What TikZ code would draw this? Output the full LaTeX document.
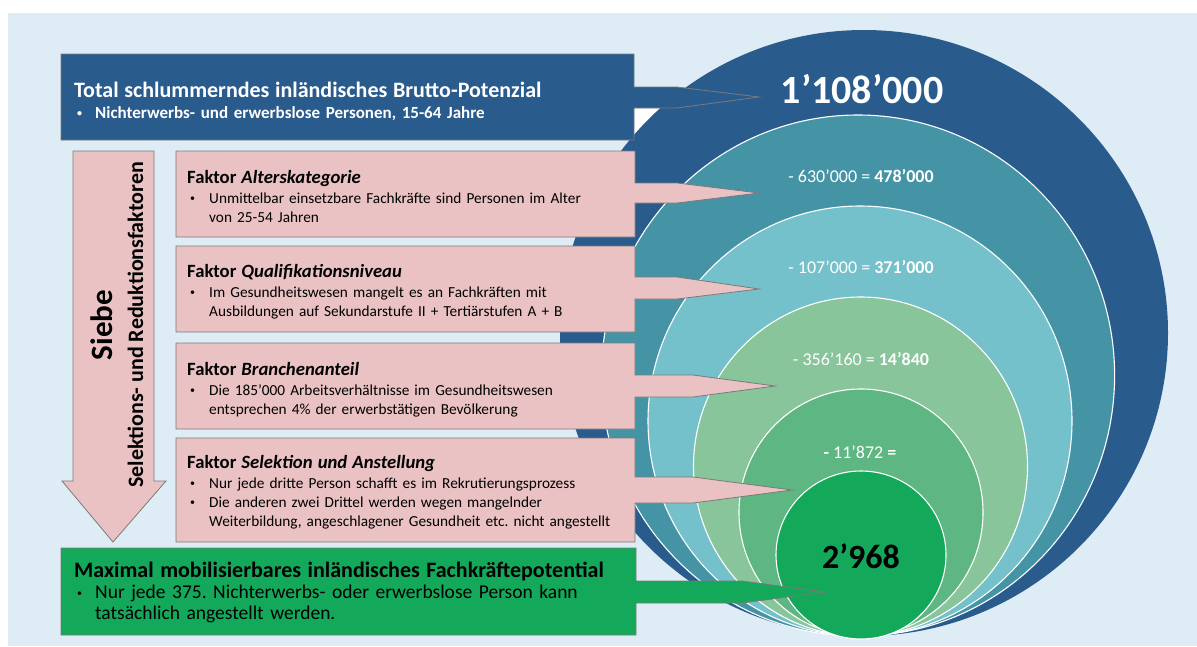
\documentclass[tikz,border=0pt]{standalone}
\usepackage{fontspec}
\setmainfont{Carlito}

\definecolor{bgblue}{HTML}{DEEDF5}
\definecolor{dkblue}{HTML}{2A5B8D}
\definecolor{ringteal}{HTML}{4594A6}
\definecolor{ringcyan}{HTML}{75C1CB}
\definecolor{ringlime}{HTML}{88C59B}
\definecolor{ringgreen}{HTML}{5EB682}
\definecolor{brgreen}{HTML}{14A85A}
\definecolor{boxpink}{HTML}{EAC2C3}
\definecolor{boxline}{HTML}{7A7A7A}

% bullet with hanging indent
\newcommand{\bul}[2][22pt]{\par\hangindent=#1\hangafter=1\noindent
    \makebox[#1][l]{\hspace{3pt}\raisebox{1.2pt}{\fontsize{10}{10}\selectfont\textbullet}}#2\par}

\begin{document}
\frenchspacing
\begin{tikzpicture}[x=1pt,y=-1pt,
    callout/.style={draw=boxline, line width=0.8pt, line join=miter},
    boxtext/.style={anchor=base west, inner sep=0pt, text width=440pt,
        font=\fontsize{15.3}{19}\selectfont},
    ringnum/.style={anchor=base, inner sep=0pt, text=white,
        font=\fontsize{18}{20}\selectfont}]

\useasboundingbox (0,0) rectangle (1197,646);
\fill[white] (0,0) rectangle (1197,646);
\fill[bgblue] (8,13) rectangle (1197,646);

% white gap behind the top pointer
\fill[white] (634,104) rectangle (662,138);

% nested rings, outer one without outline
\fill[dkblue] (864,333) ellipse [x radius=304, y radius=303];
\foreach \cx/\cy/\rx/\ry/\col in {858/375.5/256.6/260.5/ringteal,
    860/421/212/215/ringcyan, 860.5/466.5/167/169.5/ringlime,
    861/512.5/122/123.5/ringgreen, 861/555/85/84/brgreen}
{
    \filldraw[fill=\col, draw=white, line width=1.1pt] (\cx,\cy) ellipse [x radius=\rx, y radius=\ry];
}

% header box with pointer
\filldraw[callout, fill=dkblue] (61,54) -- (634,54) -- (634,87) -- (677,87) -- (759,97)
    -- (677,108) -- (634,108) -- (634,140) -- (61,140) -- cycle;

% factor boxes with pointers
\foreach \ytop/\ybot/\pa/\pb/\sx/\tx/\ty in {151/237/183/203/677/759/193,
    246/332/277/299/677/759/289, 343/429/375/397/693/775/386,
    438/542/477/503/693/792/490}
{
    \filldraw[callout, fill=boxpink] (176,\ytop) -- (635,\ytop) -- (635,\pa) -- (\sx,\pa)
        -- (\tx,\ty) -- (\sx,\pb) -- (635,\pb) -- (635,\ybot) -- (176,\ybot) -- cycle;
}

% result box with pointer
\filldraw[callout, fill=brgreen] (61,548) -- (636,548) -- (636,581) -- (742,581) -- (825,592)
    -- (742,603) -- (636,603) -- (636,635) -- (61,635) -- cycle;

% downward arrow on the left
\filldraw[callout, fill=boxpink] (73,151) -- (154,151) -- (154,481) -- (166,481) -- (113,542)
    -- (62,481) -- (73,481) -- cycle;
\node[rotate=90, anchor=base, inner sep=0pt, font=\fontsize{31}{33}\selectfont\bfseries] (siebe)
    at (112,325) {Siebe};
\node[rotate=90, anchor=base, inner sep=0pt, font=\fontsize{22}{24}\selectfont\bfseries] (siebsub)
    at (143,325) {Selektions- und Reduktionsfaktoren};

% box texts
\node[boxtext, text=white, text width=560pt, font=\fontsize{17}{21}\selectfont] (total) at (74,97)
    {{\fontsize{22}{22}\selectfont\bfseries Total schlummerndes inländisches Brutto-Potenzial\par}
    \bfseries\bul[21pt]{Nichterwerbs- und erwerbslose Personen, 15-64 Jahre}};
\node[boxtext] (alter) at (187,183)
    {{\fontsize{18.7}{20}\selectfont\bfseries Faktor \textit{Alterskategorie}\par}\vspace{1pt}
    \bul{Unmittelbar einsetzbare Fachkräfte sind Personen im Alter\newline von 25-54 Jahren}};
\node[boxtext] (quali) at (187,277)
    {{\fontsize{18.7}{20}\selectfont\bfseries Faktor \textit{Qualifikationsniveau}\par}\vspace{1pt}
    \bul{Im Gesundheitswesen mangelt es an Fachkräften mit\newline Ausbildungen auf Sekundarstufe II + Tertiärstufen A + B}};
\node[boxtext] (branche) at (187,375)
    {{\fontsize{18.7}{20}\selectfont\bfseries Faktor \textit{Branchenanteil}\par}\vspace{1pt}
    \bul{Die 185’000 Arbeitsverhältnisse im Gesundheitswesen\newline entsprechen 4\% der erwerbstätigen Bevölkerung}};
\node[boxtext] (selekt) at (187,468)
    {{\fontsize{18.7}{20}\selectfont\bfseries Faktor \textit{Selektion und Anstellung}\par}\vspace{1pt}
    \bul{Nur jede dritte Person schafft es im Rekrutierungsprozess}
    \bul{Die anderen zwei Drittel werden wegen mangelnder\newline Weiterbildung, angeschlagener Gesundheit etc. nicht angestellt}};
\node[boxtext, text width=560pt, font=\fontsize{19.5}{21}\selectfont] (fachkr) at (74,577)
    {{\fontsize{22}{22}\selectfont\bfseries Maximal mobilisierbares inländisches Fachkräftepotential\par}
    \bul[21pt]{Nur jede 375. Nichterwerbs- oder erwerbslose Person kann\newline tatsächlich angestellt werden.}};

% numbers in the rings
\node[ringnum, font=\fontsize{40}{42}\selectfont\bfseries] (r0) at (862,103) {1’108’000};
\node[ringnum] (r1) at (861,182) {- 630’000 = \textbf{478’000}};
\node[ringnum] (r2) at (861,273) {- 107’000 = \textbf{371’000}};
\node[ringnum] (r3) at (861,365) {- 356’160 = \textbf{14’840}};
\node[ringnum] (r4) at (860,458) {\textbf{-} 11’872 \textbf{=}};
\node[ringnum, text=black, font=\fontsize{34}{36}\selectfont\bfseries] (r5) at (861,568) {2’968};

\end{tikzpicture}
\end{document}
